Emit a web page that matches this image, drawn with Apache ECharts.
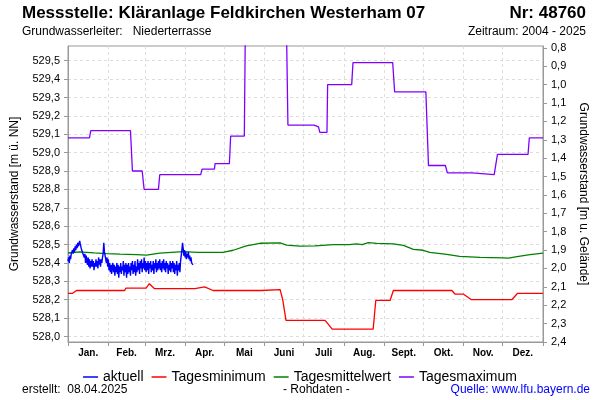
<!DOCTYPE html>
<html>
<head>
<meta charset="utf-8">
<script src="https://cdn.jsdelivr.net/npm/echarts@6/dist/echarts.min.js"></script>
<style>
html,body{margin:0;padding:0;background:#fff;}
#chart{width:600px;height:400px;}
</style>
</head>
<body>
<div id="chart"></div>
<script>
// ---- data (day of year 0..365) ----
var monthNames = ['Jan.','Feb.','Mrz.','Apr.','Mai','Juni','Juli','Aug.','Sept.','Okt.','Nov.','Dez.'];
var monthStarts = [0,31,59,90,120,151,181,212,243,273,304,334,365];
var leftTicks = [528.0,528.1,528.2,528.3,528.4,528.5,528.6,528.7,528.8,528.9,529.0,529.1,529.2,529.3,529.4,529.5];
var rightTicks = [0.8,0.9,1.0,1.1,1.2,1.3,1.4,1.5,1.6,1.7,1.8,1.9,2.0,2.1,2.2,2.3,2.4];

// aktuell: values every half day starting at day 0
var aktuellStart = 0;
var aktuellStep = 0.5;
var aktuellVals = [
528.41,528.43,528.40,528.44,528.42,528.45,528.44,528.47,528.45,528.48,
528.46,528.49,528.47,528.50,528.48,528.51,528.49,528.50,528.52,528.50,
528.49,528.47,528.48,528.45,528.46,528.43,528.45,528.40,528.44,528.41,
528.39,528.43,528.38,528.42,528.37,528.41,528.38,528.42,528.38,528.41,
528.36,528.40,528.38,528.42,528.38,528.41,528.37,528.43,528.39,528.42,
528.38,528.42,528.40,528.43,528.45,528.51,528.46,528.44,528.45,528.40,
528.43,528.38,528.42,528.36,528.40,528.35,528.39,528.34,528.38,528.40,
528.35,528.39,528.33,528.38,528.35,528.40,528.34,528.39,528.32,528.38,
528.35,528.40,528.34,528.38,528.36,528.41,528.33,528.39,528.35,528.40,
528.32,528.39,528.34,528.40,528.35,528.38,528.33,528.40,528.36,528.41,
528.34,528.39,528.35,528.41,528.33,528.38,528.35,528.42,528.36,528.40,
528.34,528.41,528.37,528.42,528.35,528.40,528.37,528.43,528.36,528.41,
528.35,528.40,528.36,528.41,528.34,528.40,528.37,528.41,528.35,528.39,
528.36,528.41,528.34,528.40,528.37,528.42,528.35,528.40,528.36,528.41,
528.37,528.42,528.36,528.40,528.35,528.41,528.37,528.42,528.36,528.40,
528.35,528.41,528.37,528.40,528.34,528.39,528.36,528.41,528.35,528.40,
528.37,528.41,528.35,528.40,528.34,528.39,528.36,528.41,528.33,528.39,
528.36,528.40,528.35,528.41,528.40,528.47,528.51,528.48,528.44,528.47,
528.43,528.46,528.42,528.45,528.43,528.46,528.42,528.44,528.41,528.43,
528.40,528.41,528.39
];

var minDays = [0,3.5,6.5,43.5,44.5,60,62.5,64,66.5,97.5,99,105,111.5,148.5,149.5,163,165,167.5,197.5,199,200.5,203,234.5,236.5,247.5,250,295,297.5,304,305.5,310,341,345.5,365];
var minVals = [528.235,528.235,528.25,528.25,528.263,528.263,528.287,528.287,528.26,528.26,528.27,528.27,528.25,528.25,528.255,528.255,528.20,528.088,528.088,528.075,528.07,528.04,528.04,528.196,528.196,528.25,528.25,528.23,528.23,528.22,528.20,528.20,528.235,528.235];

var meanDays = [0,9,20,29.5,40,52.6,60.3,70.5,88.5,100,119,127,137,147.5,163,168,178,189.8,203.8,216,221.8,226,230.8,237.2,250,257.7,265.4,273,278,291,301,316.7,334.6,338.5,345,355,365];
var meanVals = [528.454,528.46,528.455,528.451,528.448,528.445,528.442,528.453,528.462,528.458,528.458,528.469,528.493,528.507,528.509,528.497,528.491,528.493,528.50,528.50,528.504,528.50,528.511,528.506,528.504,528.495,528.474,528.469,528.458,528.447,528.436,528.43,528.428,528.426,528.434,528.445,528.453];

var maxDays = [0,16.5,17.5,48,49.5,57,58.5,69.5,70.5,102,103,112.5,113,124,125,135.5,136.5,167.5,169,189,190,192.5,193.5,199,199.5,218,219,249.5,251,275,277,290,291.5,310.5,311.5,327.5,330,353.5,354.5,365];
var maxVals = [529.08,529.08,529.12,529.12,528.90,528.90,528.80,528.80,528.88,528.88,528.91,528.91,528.94,528.94,529.09,529.09,529.85,529.85,529.15,529.15,529.14,529.14,529.11,529.11,529.37,529.37,529.49,529.49,529.33,529.33,528.93,528.93,528.89,528.89,528.88,528.88,528.99,528.99,529.08,529.08];

// ---- build ----
function pairs(xs, ys){ return xs.map(function(x,i){ return [x, ys[i]]; }); }
var aktuellData = aktuellVals.map(function(v,i){ return [aktuellStart + i*aktuellStep, v]; });
var monthMids = monthNames.map(function(n,i){ return (monthStarts[i]+monthStarts[i+1])/2; });
var FONT = "'Liberation Sans', Arial, sans-serif";
function comma(v){ return v.toFixed(1).replace('.', ','); }

var chart = echarts.init(document.getElementById('chart'), null, {renderer:'canvas'});
chart.setOption({
  animation: false,
  backgroundColor: '#fff',
  textStyle: {fontFamily: FONT},
  grid: {left: 68, right: 57, top: 46, bottom: 58, show: true, borderColor: '#999', borderWidth: 1},
  legend: {
    top: 365, left: 'center', icon: 'rect', itemWidth: 15, itemHeight: 1.5, itemGap: 8,
    textStyle: {fontFamily: FONT, fontSize: 14, color: '#000'},
    data: ['aktuell','Tagesminimum','Tagesmittelwert','Tagesmaximum']
  },
  xAxis: {
    type: 'value', min: 0, max: 365,
    axisLine: {lineStyle: {color: '#999'}},
    axisTick: {show: true, length: 4, customValues: monthStarts, lineStyle: {color: '#999'}},
    splitLine: {show: true, lineStyle: {color: '#ddd', type: [3,3]}},
    axisLabel: {customValues: monthMids, margin: 6, fontSize: 10, fontWeight: 'bold', color: '#000', fontFamily: FONT,
      formatter: function(v){ var i = monthMids.indexOf(v); return i >= 0 ? monthNames[i] : ''; }}
  },
  yAxis: [{
    type: 'value', min: 527.97, max: 529.58, position: 'left',
    name: 'Grundwasserstand [m ü. NN]', nameLocation: 'middle', nameGap: 47, nameRotate: 90, nameMoveOverlap: false,
    nameTextStyle: {fontSize: 12, color: '#000', fontFamily: FONT},
    axisLine: {show: true, lineStyle: {color: '#999'}},
    axisTick: {show: true, length: 4, customValues: leftTicks, lineStyle: {color: '#999'}},
    axisLabel: {customValues: leftTicks, fontSize: 11, color: '#000', margin: 8, fontFamily: FONT, formatter: comma},
    splitLine: {show: true, lineStyle: {color: '#ddd', type: [3,3]}}
  }, {
    type: 'value', min: 0.79, max: 2.4, inverse: true, position: 'right',
    name: 'Grundwasserstand [m u. Gelände]', nameLocation: 'middle', nameGap: 33, nameRotate: -90,
    nameTextStyle: {fontSize: 12, color: '#000', fontFamily: FONT},
    axisLine: {show: true, lineStyle: {color: '#999'}},
    axisTick: {show: true, length: 4, customValues: rightTicks, lineStyle: {color: '#999'}},
    axisLabel: {customValues: rightTicks, fontSize: 11, color: '#000', margin: 8, fontFamily: FONT, formatter: comma},
    splitLine: {show: false}
  }],
  series: [
    {name: 'Tagesmaximum', type: 'line', data: pairs(maxDays, maxVals), symbol: 'none', color: '#8000ff', lineStyle: {width: 1.3}, clip: true, z: 2},
    {name: 'Tagesmittelwert', type: 'line', data: pairs(meanDays, meanVals), symbol: 'none', color: '#008000', lineStyle: {width: 1.3}, z: 3},
    {name: 'Tagesminimum', type: 'line', data: pairs(minDays, minVals), symbol: 'none', color: '#ff0000', lineStyle: {width: 1.3}, z: 3},
    {name: 'aktuell', type: 'line', data: aktuellData, symbol: 'none', color: '#0000ff', lineStyle: {width: 1.4}, z: 4}
  ],
  graphic: [
    {type: 'text', left: 22, top: 5, style: {text: 'Messstelle: Kläranlage Feldkirchen Westerham 07', font: 'bold 17px ' + FONT, fill: '#000'}},
    {type: 'text', right: 14, top: 5, style: {text: 'Nr: 48760', font: 'bold 17px ' + FONT, fill: '#000'}},
    {type: 'text', left: 22, top: 26, style: {text: 'Grundwasserleiter:   Niederterrasse', font: '12px ' + FONT, fill: '#000'}},
    {type: 'text', right: 14, top: 26, style: {text: 'Zeitraum: 2004 - 2025', font: '12px ' + FONT, fill: '#000'}},
    {type: 'text', left: 22, top: 384, style: {text: 'erstellt:  08.04.2025', font: '12px ' + FONT, fill: '#000'}},
    {type: 'text', left: 283, top: 384, style: {text: '- Rohdaten -', font: '12px ' + FONT, fill: '#000'}},
    {type: 'text', right: 10, top: 384, style: {text: 'Quelle: www.lfu.bayern.de', font: '12px ' + FONT, fill: '#0000ff'}}
  ]
});
</script>
</body>
</html>
